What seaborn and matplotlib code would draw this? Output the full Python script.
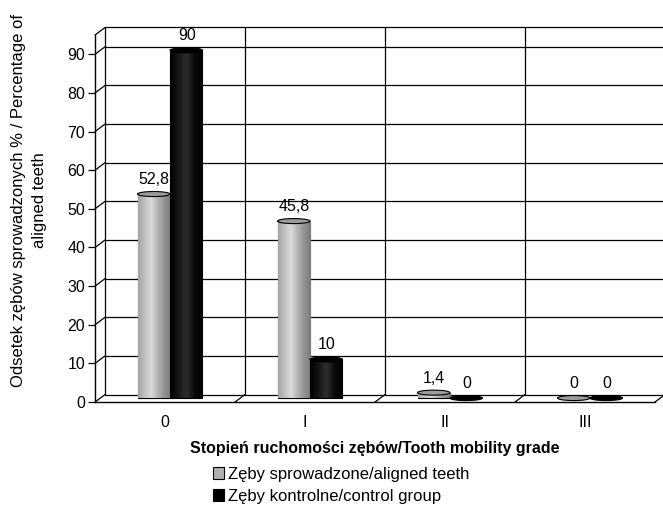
import matplotlib
matplotlib.use("Agg")
import matplotlib.pyplot as plt
import numpy as np
import pandas as pd
import seaborn as sns
from matplotlib.colors import LinearSegmentedColormap
from matplotlib.patches import Ellipse
from matplotlib.transforms import ScaledTranslation

# values
grades = ['0', 'I', 'II', 'III']
aligned = [52.8, 45.8, 1.4, 0.0]
control = [90.0, 10.0, 0.0, 0.0]
series_names = ['Zęby sprowadzone/aligned teeth', 'Zęby kontrolne/control group']

df = pd.DataFrame({
    'grade': grades * 2,
    'value': aligned + control,
    'series': [series_names[0]] * 4 + [series_names[1]] * 4,
})

sns.set_theme(style='white')
plt.rcParams['font.family'] = ['Liberation Sans', 'DejaVu Sans']
for k in ['text.color', 'axes.labelcolor', 'xtick.color', 'ytick.color']:
    plt.rcParams[k] = 'black'

fig = plt.figure(figsize=(6.63, 5.07), dpi=100)
ax = fig.add_axes([0.1433, 0.207, 0.8446, 0.724])
ytop = 95

palette = {series_names[0]: '#b0b0b0', series_names[1]: '#000000'}
sns.barplot(data=df, x='grade', y='value', hue='series', palette=palette,
            width=0.464, edgecolor='black', linewidth=0.8, ax=ax, legend=True)
ax.set_xlim(-0.5, 3.5)
ax.set_ylim(0, ytop)


def shift(dx, dy):
    # pixel offset used to fake the 3-D depth
    return ScaledTranslation(dx / fig.dpi, dy / fig.dpi, fig.dpi_scale_trans)


back = shift(10, 7.5)
mid = shift(5, 4)
line_kw = dict(color='black', linewidth=0.9, clip_on=False, zorder=0.5)

# back wall: horizontal grid, left edge, top edge, vertical separators
for yv in list(range(0, 100, 10)) + [ytop]:
    ax.plot([0, 1.05], [yv, yv], transform=ax.get_yaxis_transform() + back, **line_kw)
ax.plot([-0.5, -0.5], [0, ytop], transform=ax.transData + back, **line_kw)
for b in [0.5, 1.5, 2.5]:
    ax.plot([b, b], [0, ytop], transform=ax.transData + back, **line_kw)

# depth diagonals from the front axes to the back wall
bb = ax.get_window_extent()
dx_ax = 10 / bb.width
dy_data = 7.5 / bb.height * ytop
for yv in list(range(0, 100, 10)) + [ytop]:
    ax.plot([0, dx_ax], [yv, yv + dy_data], transform=ax.get_yaxis_transform(), **line_kw)
for b in [0.5, 1.5, 2.5, 3.5]:
    ax.plot([b, b + dx_ax * 4], [0, dy_data], transform=ax.transData, **line_kw)

# cylinder-like shading on each bar
grad = np.linspace(0, 1, 64).reshape(1, -1)
cmaps = [
    LinearSegmentedColormap.from_list('g', ['#a4a4a4', '#c2c2c2', '#dadada', '#b4b4b4', '#939393', '#7a7a7a']),
    LinearSegmentedColormap.from_list('k', ['#000000', '#141414', '#2e2e2e', '#0a0a0a', '#000000']),
]
cap_colors = ['#9c9c9c', '#000000']
for cont, cmap, cap in zip(ax.containers, cmaps, cap_colors):
    for patch in cont:
        patch.set_transform(ax.transData + mid)
        patch.set_clip_on(False)
        x0, y0 = patch.get_x(), patch.get_y()
        w, h = patch.get_width(), patch.get_height()
        if h > 0:
            im = ax.imshow(grad, extent=[x0, x0 + w, y0, y0 + h], aspect='auto',
                           cmap=cmap, zorder=patch.get_zorder() + 0.1)
            im.set_transform(ax.transData + mid)
            im.set_clip_path(patch)
        ax.add_patch(Ellipse((x0 + w / 2, y0 + h), w, 1.3, facecolor=cap,
                             edgecolor='black', linewidth=0.8,
                             transform=ax.transData + mid, clip_on=False,
                             zorder=patch.get_zorder() + 0.2))

# data labels with decimal comma
for cont in ax.containers:
    for patch in cont:
        v = patch.get_height()
        txt = f'{v:g}'.replace('.', ',')
        ax.annotate(txt, (patch.get_x() + patch.get_width() / 2, v),
                    xytext=(4, 8), textcoords='offset points',
                    ha='center', va='bottom', fontsize=11.5)

ax.set_xlim(-0.5, 3.5)
ax.set_ylim(0, ytop)
ax.set_yticks(range(0, 100, 10))
ax.set_xticks(range(4))
ax.set_xticklabels(grades)
ax.set_xticks([-0.5, 0.5, 1.5, 2.5, 3.5], minor=True)
ax.tick_params(axis='x', which='major', length=0, labelsize=11.5, pad=9)
ax.tick_params(axis='x', which='minor', length=5, width=0.9, color='black', direction='out')
ax.tick_params(axis='y', length=5, width=0.9, color='black', direction='out',
               labelsize=11.5, left=True, pad=2)

ax.spines['top'].set_visible(False)
ax.spines['right'].set_visible(False)
for s in ['left', 'bottom']:
    ax.spines[s].set_color('black')
    ax.spines[s].set_linewidth(1.0)

ax.set_xlabel('Stopień ruchomości zębów/Tooth mobility grade', fontsize=11.5,
              fontweight='bold', labelpad=8)
ax.set_ylabel('Odsetek zębów sprowadzonych % / Percentage of\naligned teeth',
              fontsize=12, linespacing=1.45)
ax.yaxis.set_label_coords(-0.086, 0.55)

handles, labels = ax.get_legend_handles_labels()
ax.legend(handles, labels, loc='upper left', bbox_to_anchor=(0.308, 0.096),
          bbox_transform=fig.transFigure, frameon=False, fontsize=12,
          handlelength=0.7, handleheight=0.7, handletextpad=0.25,
          labelspacing=0.45, borderpad=0)

fig.savefig('out.png', dpi=100)
